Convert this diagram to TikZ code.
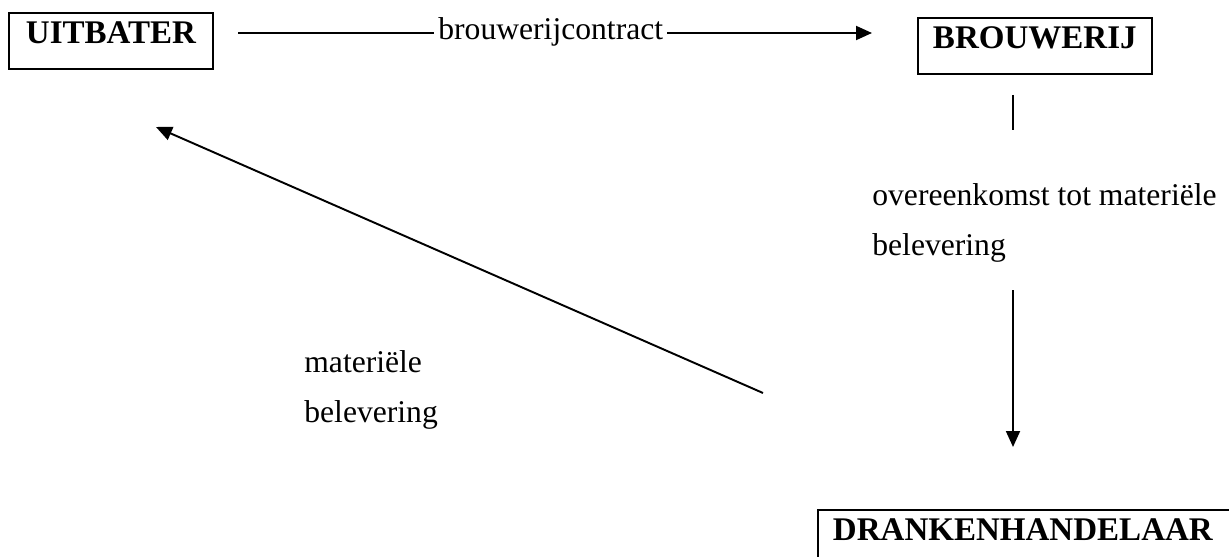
\documentclass[tikz,border=0pt]{standalone}
\usepackage{fontspec}
\setmainfont{Liberation Serif}
\usetikzlibrary{arrows.meta, positioning}

\begin{document}
\begin{tikzpicture}[
  x=0.02cm, y=-0.02cm,
  every node/.style={font=\fontsize{18}{28.4}\selectfont, inner sep=0pt},
  party/.style={draw, line width=1.1pt, anchor=north west,
                font=\fontsize{18.8}{27.2}\selectfont\bfseries,
                text height=0.62cm, text depth=0.5cm, inner xsep=0.3cm},
  note/.style={anchor=base west, align=left},
  link/.style={line width=1.1pt},
  arrow/.style={link, -{Triangle[length=0.32cm, width=0.28cm]}},
]
\useasboundingbox (0,0) rectangle (1229,557);
\clip (0,0) rectangle (1229,557);

% Parties
\node[party, minimum width=4.08cm] (uitbater) at (8,12) {UITBATER};
\node[party, minimum width=4.54cm] (brouwerij) at (917,17) {BROUWERIJ};
\node[party, text width=7.86cm, align=left] (handelaar) at (817,509) {DRANKENHANDELAAR};

% Labels (base = last line)
\node[note] (contract) at (438,40) {brouwerijcontract};
\node[note] (overeenkomst) at (872,255) {overeenkomst tot materiële\\belevering};
\node[note] (levering) at (304,422) {materiële\\belevering};

% Connectors
\coordinate (ctstart) at (238,33);
\coordinate (ctend) at (872,33);
\draw[link] (ctstart) -- ([xshift=-2pt]ctstart -| contract.west);
\draw[arrow] ([xshift=2pt]ctstart -| contract.east) -- (ctend);

\coordinate (brtop) at (1013,95);
\coordinate (brbot) at (1013,130);
\draw[link] (brtop) -- (brbot);

\coordinate (hdtop) at (1013,290);
\coordinate (hdbot) at (1013,447);
\draw[arrow] (hdtop) -- (hdbot);

\coordinate (dgstart) at (763,393);
\coordinate (dgend) at (156,127);
\draw[arrow] (dgstart) -- (dgend);
\end{tikzpicture}
\end{document}
